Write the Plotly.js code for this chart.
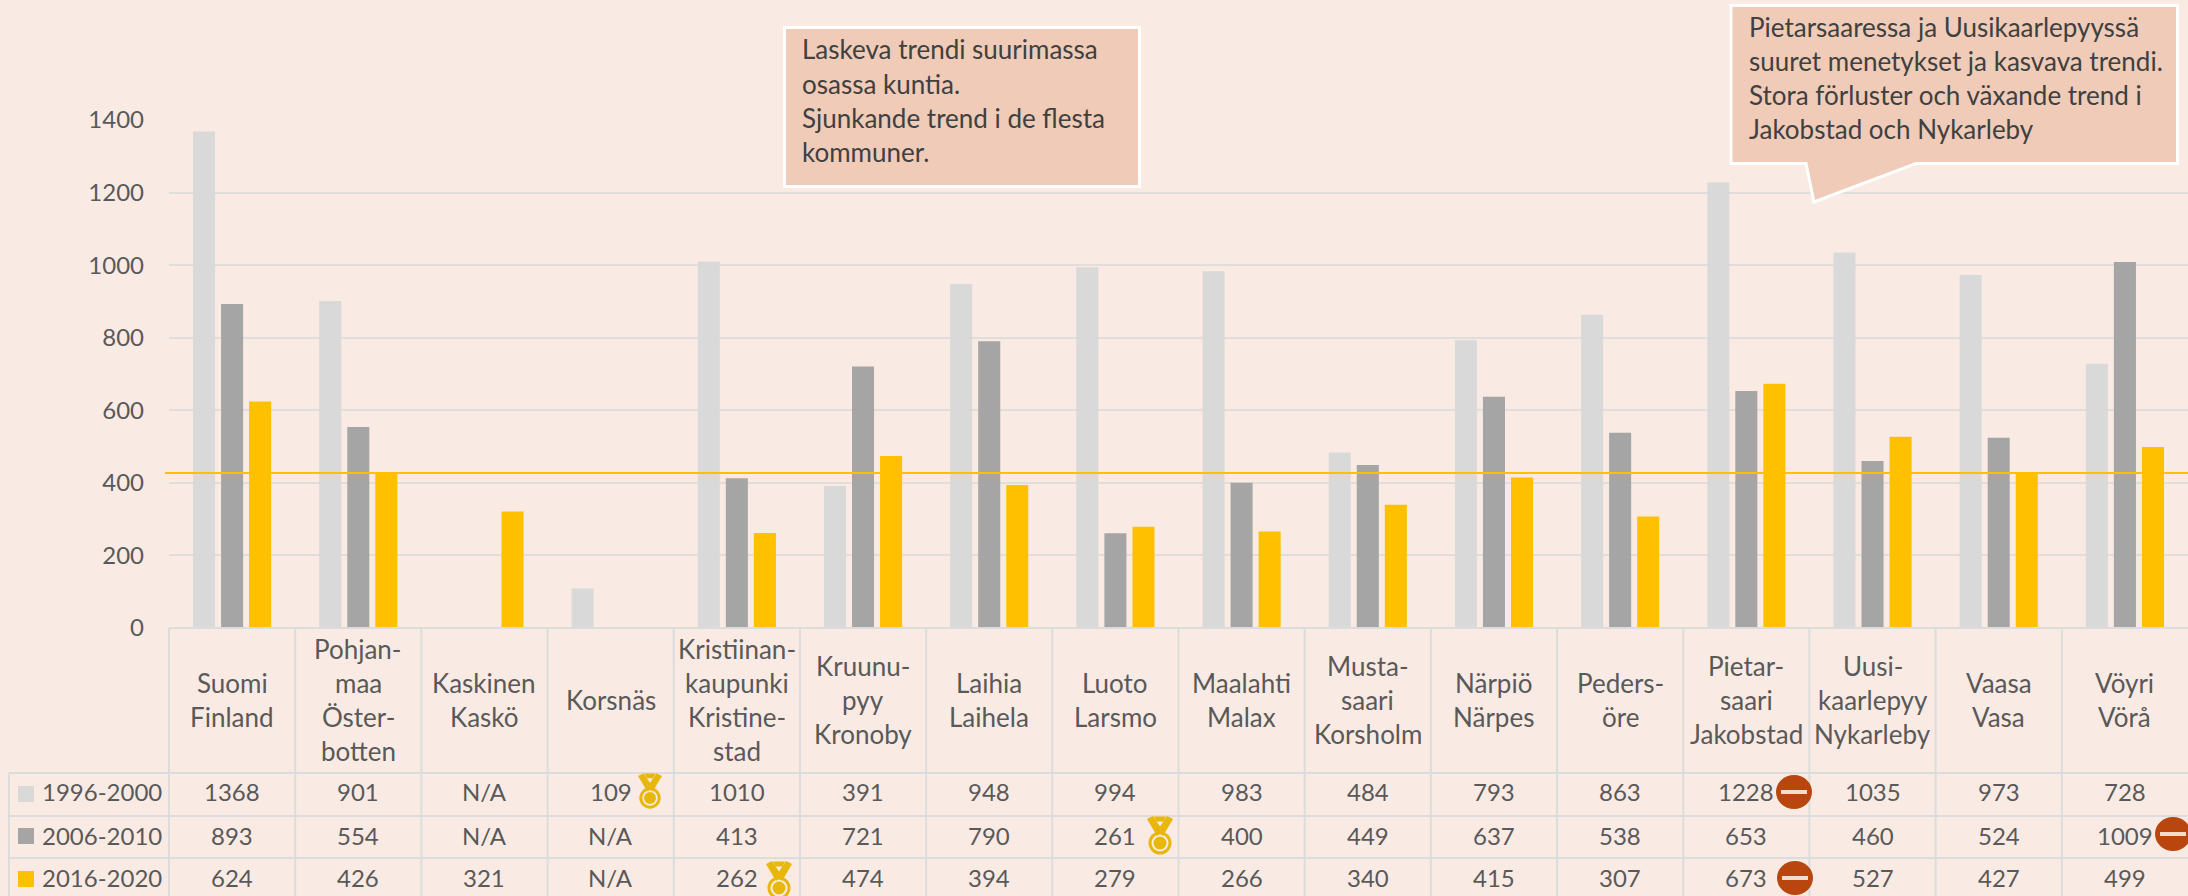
<!DOCTYPE html>
<html><head><meta charset="utf-8">
<script src="https://cdn.plot.ly/plotly-3.0.1.min.js"></script>
<style>html,body{margin:0;padding:0;background:#F9EBE4;overflow:hidden}</style>
</head><body><div id="chart" style="width:2188px;height:896px"></div>
<script>
const categoryLines = [
  ['Suomi','Finland'],
  ['Pohjan-','maa','Öster-','botten'],
  ['Kaskinen','Kaskö'],
  ['Korsnäs'],
  ['Kristiinan-','kaupunki','Kristine-','stad'],
  ['Kruunu-','pyy','Kronoby'],
  ['Laihia','Laihela'],
  ['Luoto','Larsmo'],
  ['Maalahti','Malax'],
  ['Musta-','saari','Korsholm'],
  ['Närpiö','Närpes'],
  ['Peders-','öre'],
  ['Pietar-','saari','Jakobstad'],
  ['Uusi-','kaarlepyy','Nykarleby'],
  ['Vaasa','Vasa'],
  ['Vöyri','Vörå']
];
const seriesNames = ['1996-2000','2006-2010','2016-2020'];
const values1996 = [1368,901,null,109,1010,391,948,994,983,484,793,863,1228,1035,973,728];
const values2006 = [893,554,null,null,413,721,790,261,400,449,637,538,653,460,524,1009];
const values2016 = [624,426,321,null,262,474,394,279,266,340,415,307,673,527,427,499];
const seriesColors = ['#D9D9D9','#A5A5A5','#FFC000'];
const referenceLevel = 427;
const calloutA = ['Laskeva trendi suurimassa','osassa kuntia.','Sjunkande trend i de flesta','kommuner.'];
const calloutB = ['Pietarsaaressa ja Uusikaarlepyyssä','suuret menetykset ja kasvava trendi.','Stora förluster och växande trend i','Jakobstad och Nykarleby'];

const W=2188,H=896,L=169,T=120,B=628,PW=W-L,PH=B-T,CW=PW/16;
const px=x=>(x-L)/PW, py=y=>(B-y)/PH;
const categories=categoryLines.map(l=>l.join(' '));
const allValues=[values1996,values2006,values2016];
const FONT='Lato, sans-serif', TXT='#595959', GRID='#E0DDDB', LINE='#DCDCDC';
const rowY=[792,835,877], rowTop=[773,816,858];

const traces=allValues.map((v,i)=>({type:'bar',name:seriesNames[i],x:categories,y:v,
  marker:{color:seriesColors[i],line:{width:0}},hoverinfo:'x+y+name'}));

const shapes=[],annotations=[];
const lineShape=(x0,y0,x1,y1,color,w)=>shapes.push({type:'line',xref:'paper',yref:'paper',
  x0:px(x0),y0:py(y0),x1:px(x1),y1:py(y1),line:{color:color,width:w}});
const text=(x,y,t,opts={})=>annotations.push(Object.assign({xref:'paper',yref:'paper',x:px(x),y:py(y),
  text:t,showarrow:false,xanchor:'center',yanchor:'middle',borderpad:0,
  font:{family:FONT,size:24,color:TXT}},opts));
const poly=(pts,fill)=>shapes.push({type:'path',xref:'paper',yref:'paper',fillcolor:fill,line:{width:0},
  path:pts.map((p,i)=>(i?'L':'M')+px(p[0])+','+py(p[1])).join(' ')+' Z'});
const ellipse=(cx,cy,rx,ry,fill,lc,lw)=>shapes.push({type:'circle',xref:'paper',yref:'paper',
  x0:px(cx-rx),x1:px(cx+rx),y0:py(cy+ry),y1:py(cy-ry),fillcolor:fill,line:{color:lc||fill,width:lw||0}});

// reference level across the chart
shapes.push({type:'line',xref:'paper',yref:'y',x0:px(165),x1:1,y0:referenceLevel,y1:referenceLevel,
  line:{color:'#FFC000',width:2}});

// table grid
lineShape(L,628,W,628,LINE,2);
rowTop.forEach(y=>lineShape(9,y,W,y,LINE,2));
lineShape(9,773,9,H,LINE,2);
for(let i=0;i<16;i++){ lineShape(L+i*CW,628,L+i*CW,H,LINE,2); }

// category header cells
categoryLines.forEach((lines,i)=>{
  const cx=L+(i+.5)*CW, pitch=34, y0=699.5-(lines.length-1)*pitch/2;
  lines.forEach((l,j)=>text(cx,y0+j*pitch,l,{font:{family:FONT,size:26,color:TXT}}));
});
// value cells and legend keys
const keyY=[794,836,879];
allValues.forEach((v,r)=>{
  poly([[18,keyY[r]-8],[34,keyY[r]-8],[34,keyY[r]+8],[18,keyY[r]+8]],seriesColors[r]);
  text(41,rowY[r],seriesNames[r],{xanchor:'left'});
  v.forEach((val,i)=>text(L+(i+.5)*CW,rowY[r],val===null?'N/A':String(val)));
});

// icons
[[650,798,0.92],[1160,843,1],[779,888,1]].forEach(([cx,cy,s])=>{
  const G='#E8B70B';
  const P=a=>a.map(p=>[cx+p[0]*s,cy+p[1]*s]);
  poly(P([[-13,-24],[-7,-27],[3,-12],[-3,-7]]),G);
  poly(P([[13,-24],[7,-27],[-3,-12],[3,-7]]),G);
  poly(P([[-6,-26.5],[6,-26.5],[3.5,-21.5],[-3.5,-21.5]]),G);
  ellipse(cx,cy,10*s,10*s,'rgba(0,0,0,0)',G,3);
  ellipse(cx,cy,6.5*s,6.5*s,G);
});
[[1794,792],[2173,834],[1795,878]].forEach(([cx,cy])=>{
  ellipse(cx,cy,18,17,'#B8460E');
  poly([[cx-13,cy-2],[cx+13,cy-2],[cx+13,cy+2],[cx-13,cy+2]],'#F6DCCB');
});

// callouts
const FILL='#EFCBB8';
const boxA=[[784.5,27.5],[1139.5,27.5],[1139.5,186.5],[784.5,186.5]];
const boxB=[[1731,5.5],[2177.5,5.5],[2177.5,163.5],[1916,163.5],[1814,202],[1806,163.5],[1731,163.5]];
[boxA,boxB].forEach(b=>shapes.push({type:'path',xref:'paper',yref:'paper',fillcolor:FILL,
  line:{color:'#FFFFFF',width:3},
  path:b.map((p,i)=>(i?'L':'M')+px(p[0])+','+py(p[1])).join(' ')+' Z'}));
const CF={family:FONT,size:26,color:'#404040'};
[49,84,118,152].forEach((y,i)=>text(801,y,calloutA[i],{xanchor:'left',font:CF}));
[27,61,95,129].forEach((y,i)=>text(1748,y,calloutB[i],{xanchor:'left',font:CF}));

Plotly.newPlot('chart',traces,{
  width:W,height:H,showlegend:false,barmode:'group',bargap:0.333,bargroupgap:0.214,
  paper_bgcolor:'#F9EBE4',plot_bgcolor:'#F9EBE4',
  margin:{l:L,r:0,t:T,b:H-B,pad:0},
  font:{family:FONT,size:24,color:TXT},
  xaxis:{type:'category',categories:categories,categoryorder:'array',categoryarray:categories,
    showticklabels:false,ticks:'',showgrid:false,zeroline:false,showline:false},
  yaxis:{range:[0,1400],tickvals:[0,200,400,600,800,1000,1200,1400],tickformat:'d',ticks:'',
    showgrid:true,gridcolor:GRID,gridwidth:2,zeroline:false,showline:false,
    ticklabelstandoff:24,tickfont:{family:FONT,size:24,color:TXT}},
  shapes:shapes,annotations:annotations
},{displayModeBar:false,staticPlot:true});
</script></body></html>
